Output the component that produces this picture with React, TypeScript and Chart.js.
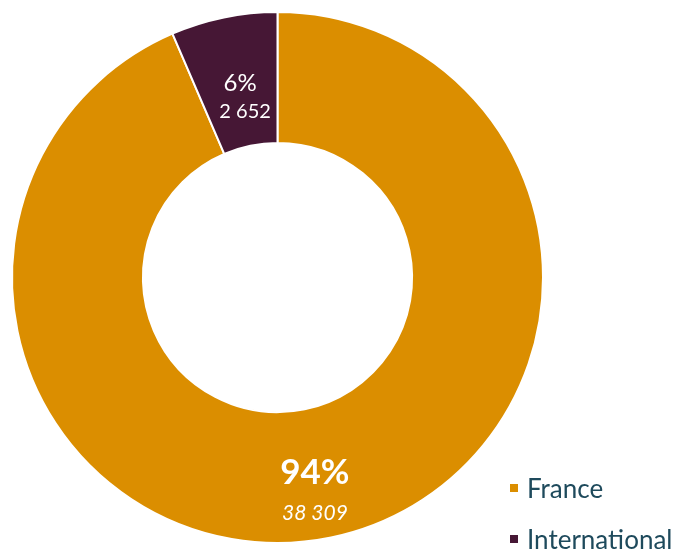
import React, { useEffect, useRef } from "react";
import { Chart, registerables } from "chart.js";

Chart.register(...registerables);

const categories = ["France", "International"];
const values = [38309, 2652];
const colors = ["#DB8E00", "#461735"];

const FONT = "Lato, 'Open Sans', sans-serif";

function fmt(n: number): string {
  return String(n).replace(/\B(?=(\d{3})+(?!\d))/g, " ");
}

const labelPlugin = {
  id: "sliceLabels",
  afterDatasetsDraw(chart: any) {
    const ctx = chart.ctx;
    const meta = chart.getDatasetMeta(0);
    const data = chart.data.datasets[0].data as number[];
    const total = data.reduce((a, b) => a + b, 0);
    meta.data.forEach((arc: any, i: number) => {
      const p = arc.getProps(["x", "y", "startAngle", "endAngle", "innerRadius", "outerRadius"], true);
      const mid = (p.startAngle + p.endAngle) / 2;
      const r = (p.innerRadius + p.outerRadius) / 2;
      const x = p.x + Math.cos(mid) * r;
      const y = p.y + Math.sin(mid) * r;
      const pct = Math.round((data[i] / total) * 100) + "%";
      const big = data[i] / total > 0.5;
      ctx.save();
      ctx.fillStyle = "#ffffff";
      ctx.textAlign = "center";
      ctx.textBaseline = "middle";
      if (big) {
        ctx.font = `bold 35px ${FONT}`;
        ctx.fillText(pct, x - 3, y - 1);
        ctx.font = `italic 21px ${FONT}`;
        ctx.fillText(fmt(data[i]), x - 3, y + 40);
      } else {
        ctx.font = `24px ${FONT}`;
        ctx.fillText(pct, x + 3, y + 2);
        ctx.font = `20px ${FONT}`;
        ctx.fillText(fmt(data[i]), x + 8, y + 30);
      }
      ctx.restore();
    });
  },
};

export default function App() {
  const ref = useRef<HTMLCanvasElement | null>(null);
  useEffect(() => {
    if (!ref.current) return;
    const chart = new Chart(ref.current, {
      type: "doughnut",
      data: {
        labels: categories,
        datasets: [
          {
            data: values,
            backgroundColor: colors,
            borderColor: "#ffffff",
            borderWidth: 2,
          },
        ],
      },
      options: {
        animation: false,
        responsive: false,
        maintainAspectRatio: false,
        cutout: "50.7%",
        layout: { padding: { left: 11, top: 11, right: 130, bottom: 5 } },
        plugins: {
          legend: { display: false },
          tooltip: { enabled: false },
        },
      },
      plugins: [labelPlugin],
    });
    return () => chart.destroy();
  }, []);

  return (
    <div style={{ position: "fixed", left: 0, top: 0, width: 674, height: 549, background: "#fff", overflow: "hidden" }}>
      <canvas ref={ref} width={674} height={549} style={{ width: 674, height: 549 }} />
      {categories.map((c, i) => (
        <div
          key={c}
          style={{
            position: "absolute",
            left: 510,
            top: 473 + i * 51,
            display: "flex",
            alignItems: "center",
            fontFamily: FONT,
            fontSize: 26,
            color: "#1E4A5C",
            whiteSpace: "nowrap",
            lineHeight: "30px",
          }}
        >
          <span style={{ display: "inline-block", width: 8, height: 8, background: colors[i], marginRight: 9 }} />
          {c}
        </div>
      ))}
    </div>
  );
}
